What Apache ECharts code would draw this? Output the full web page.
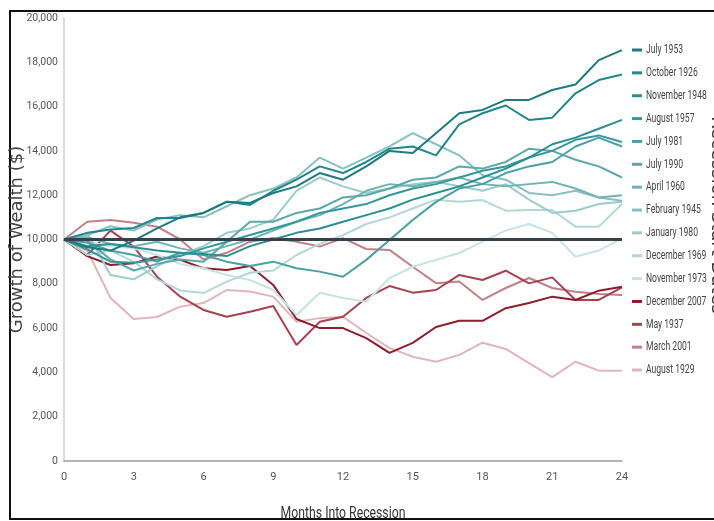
<!DOCTYPE html>
<html>
<head>
<meta charset="utf-8">
<script src="https://cdn.jsdelivr.net/npm/echarts@6/dist/echarts.min.js"></script>
<style>
  html, body { margin: 0; padding: 0; background: #fff; }
  #chart { width: 714px; height: 521px; }
</style>
</head>
<body>
<div id="chart"></div>
<script>
// months 0..24
var months = [0, 1, 2, 3, 4, 5, 6, 7, 8, 9, 10, 11, 12, 13, 14, 15, 16, 17, 18, 19, 20, 21, 22, 23, 24]
var yTicks = [0, 2000, 4000, 6000, 8000, 10000, 12000, 14000, 16000, 18000, 20000]
var xTicks = [0, 3, 6, 9, 12, 15, 18, 21, 24]
var startValue = 10000

var recessionNames = ['July 1953', 'October 1926', 'November 1948', 'August 1957', 'July 1981', 'July 1990', 'April 1960',
  'February 1945', 'January 1980', 'December 1969', 'November 1973', 'December 2007', 'May 1937', 'March 2001', 'August 1929']

var july1953 = [10000, 9650, 9500, 9950, 10500, 11000, 11200, 11700, 11650, 12100, 12400, 13000, 12700, 13300, 14000, 13900, 14800, 15700, 15850, 16300, 16300, 16750, 17000, 18100, 18550]
var october1926 = [10000, 10300, 10450, 10520, 10970, 10970, 11200, 11710, 11560, 12200, 12700, 13300, 13000, 13500, 14100, 14200, 13800, 15200, 15700, 16050, 15400, 15500, 16600, 17200, 17450]
var november1948 = [10000, 9700, 9800, 9650, 9500, 9400, 9350, 9250, 9700, 10000, 10300, 10500, 10800, 11100, 11400, 11800, 12100, 12400, 12800, 13200, 13700, 14300, 14600, 15000, 15400]
var august1957 = [10000, 9550, 9000, 8950, 9100, 9250, 9600, 9900, 10200, 10500, 10800, 11200, 11400, 11600, 12000, 12300, 12500, 12800, 13100, 13300, 13700, 14000, 14500, 14700, 14400]
var july1981 = [10000, 9850, 9500, 9300, 9000, 9400, 9300, 9000, 8800, 9000, 8700, 8550, 8320, 9080, 9980, 10880, 11700, 12300, 12500, 13000, 13300, 13500, 14200, 14600, 14200]
var july1990 = [10000, 9950, 9100, 8600, 8900, 9100, 9000, 9900, 10800, 10800, 11200, 11400, 11900, 12000, 12300, 12700, 12800, 13300, 13200, 13500, 14100, 14000, 13600, 13300, 12800]
var april1960 = [10000, 10100, 9800, 9700, 9900, 9600, 9400, 9700, 10000, 10400, 10800, 11100, 11600, 12200, 12500, 12400, 12600, 12800, 12500, 12400, 12500, 12600, 12300, 11900, 12000]
var february1945 = [10000, 10200, 10600, 10400, 10900, 11100, 11000, 11500, 12000, 12300, 12800, 13700, 13200, 13700, 14200, 14800, 14300, 13800, 12900, 12700, 12100, 12000, 12200, 11900, 11750]
var january1980 = [10000, 10300, 8400, 8200, 8800, 9300, 9700, 10300, 10500, 10900, 12200, 12800, 12400, 12100, 12300, 12500, 12600, 12400, 12200, 12500, 11800, 11200, 11300, 11600, 11700]
var december1969 = [10000, 9300, 9500, 9000, 8200, 7700, 7580, 8100, 8500, 8600, 9300, 9800, 10200, 10700, 11000, 11400, 11800, 11700, 11780, 11300, 11330, 11330, 10580, 10580, 11600]
var november1973 = [10000, 9900, 9700, 9600, 9300, 8900, 8700, 8400, 8170, 7720, 6590, 7600, 7360, 7190, 8260, 8770, 9080, 9390, 9900, 10400, 10700, 10300, 9220, 9500, 10050]
var december2007 = [10000, 9250, 8850, 8930, 9230, 9080, 8700, 8620, 8800, 7950, 6410, 6000, 6000, 5550, 4880, 5330, 6050, 6330, 6330, 6900, 7130, 7420, 7270, 7690, 7870]
var may1937 = [10000, 9300, 10400, 9680, 8320, 7420, 6820, 6510, 6740, 7000, 5240, 6290, 6510, 7360, 7900, 7600, 7720, 8400, 8170, 8590, 8020, 8290, 7270, 7270, 7840]
var march2001 = [10000, 10800, 10880, 10760, 10580, 10000, 9100, 9400, 9900, 10070, 9900, 9680, 10060, 9570, 9530, 8770, 8030, 8100, 7270, 7810, 8260, 7810, 7640, 7540, 7490]
var august1929 = [10000, 9500, 7360, 6410, 6500, 6970, 7130, 7720, 7650, 7420, 6290, 6450, 6510, 5780, 5100, 4710, 4480, 4790, 5340, 5060, 4420, 3790, 4480, 4080, 4080]

var seriesValues = [july1953, october1926, november1948, august1957, july1981, july1990, april1960,
  february1945, january1980, december1969, november1973, december2007, may1937, march2001, august1929]

var lineColors = ['#1f7a80', '#22868b', '#2a8f94', '#35979b', '#48a0a3', '#5aa8aa', '#6fb3b4',
  '#86c0c0', '#9ccbcb', '#b3d7d7', '#c8e2e2', '#8c1d2c', '#a8414f', '#c08089', '#e2b4b9']

var labelFont = 'Roboto'
var labelColor = '#555'

var series = []
seriesValues.forEach(function (vals, k) {
  series.push({
    name: recessionNames[k],
    type: 'line',
    symbol: 'none',
    z: 10 + (seriesValues.length - k),
    lineStyle: { width: 2, color: lineColors[k] },
    itemStyle: { color: lineColors[k] },
    data: vals.map(function (v, i) { return [months[i], v] })
  })
})
// thick line at starting value
series[0].markLine = {
  silent: true,
  symbol: 'none',
  label: { show: false },
  lineStyle: { color: '#37414b', width: 3, type: 'solid' },
  z: 30,
  data: [{ yAxis: startValue }]
}

// legend drawn by hand so the condensed labels fit at the right edge
var legendItems = []
recessionNames.forEach(function (name, k) {
  var cy = 50 + k * 22.86
  legendItems.push({
    type: 'rect',
    shape: { x: 632, y: cy - 1.5, width: 10, height: 3 },
    style: { fill: lineColors[k] },
    silent: true
  })
  legendItems.push({
    type: 'text',
    x: 646,
    y: cy,
    scaleX: 0.66,
    style: { text: name, font: '13px Roboto', fill: '#444', align: 'left', verticalAlign: 'middle' },
    silent: true
  })
})

var myChart = echarts.init(document.getElementById('chart'))
var option = {
  backgroundColor: '#fff',
  animation: false,
  grid: { left: 64, right: 92, top: 18, bottom: 60, containLabel: false, outerBoundsMode: 'none' },
  xAxis: {
    type: 'value',
    min: 0,
    max: 24,
    interval: 3,
    axisLine: { show: true, lineStyle: { color: '#9a9a9a', width: 1.5 } },
    axisTick: { show: false },
    splitLine: { show: false },
    axisLabel: { fontFamily: labelFont, fontSize: 11, color: labelColor, margin: 11, customValues: xTicks }
  },
  yAxis: {
    type: 'value',
    min: 0,
    max: 20000,
    interval: 2000,
    name: 'Growth of Wealth ($)',
    nameLocation: 'middle',
    nameGap: 38,
    nameMoveOverlap: false,
    nameTextStyle: { fontFamily: 'DejaVu Sans', fontSize: 18, color: '#444' },
    axisLine: { show: true, lineStyle: { color: '#cfcfcf', width: 1.5 } },
    axisTick: { show: false },
    splitLine: { show: false },
    axisLabel: {
      fontFamily: labelFont,
      fontSize: 10.5,
      color: labelColor,
      margin: 6,
      customValues: yTicks,
      formatter: function (v) { return v.toLocaleString('en-US') }
    }
  },
  graphic: [
    {
      type: 'rect',
      shape: { x: 10, y: 11, width: 712, height: 508 },
      style: { fill: 'none', stroke: '#111', lineWidth: 2 },
      silent: true
    },
    {
      type: 'text',
      x: 343,
      y: 514,
      scaleX: 0.72,
      style: { text: 'Months Into Recession', font: '17px Roboto', fill: '#333', align: 'center', verticalAlign: 'middle' },
      silent: true
    },
    {
      type: 'text',
      x: 717,
      y: 215,
      rotation: -Math.PI / 2,
      style: { text: 'Recession Start Dates', font: '18px DejaVu Sans', fill: '#333', align: 'center', verticalAlign: 'middle' },
      silent: true
    },
    { type: 'group', children: legendItems }
  ],
  series: series
}
myChart.setOption(option)
</script>
</body>
</html>
